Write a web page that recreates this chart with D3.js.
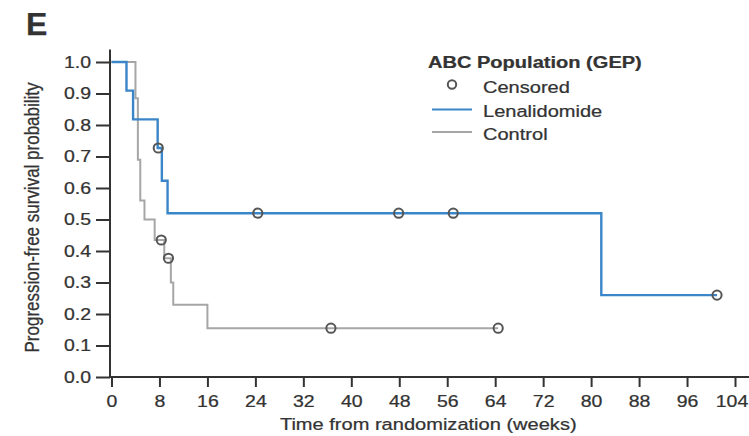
<!DOCTYPE html>
<html>
<head>
<meta charset="utf-8">
<script src="https://cdn.jsdelivr.net/npm/d3@7"></script>
<style>
  html, body { margin: 0; padding: 0; background: #fff; }
  svg { display: block; }
  text { font-family: "Liberation Sans", Arial, Helvetica, sans-serif; fill: #333; stroke: #333; stroke-width: 0.25px; }
</style>
</head>
<body>
<svg id="chart" width="749" height="436"></svg>
<script>
// Kaplan–Meier estimates, ABC population (GEP)
const lenaTimes = [0, 2.5, 3.6, 7.7, 8.4, 9.35, 81.7, 101];
const lenaSurv  = [1.0, 0.909, 0.818, 0.727, 0.623, 0.52, 0.26, 0.26];
const lenaCensorTimes = [7.8, 24.4, 47.9, 57.0, 101];
const lenaCensorSurv  = [0.727, 0.52, 0.52, 0.52, 0.26];

const ctrlTimes = [0, 4.0, 4.4, 4.8, 5.5, 7.2, 8.8, 9.9, 10.3, 16.0, 64.5];
const ctrlSurv  = [1.0, 0.885, 0.69, 0.56, 0.50, 0.435, 0.377, 0.30, 0.229, 0.155, 0.155];
const ctrlCensorTimes = [8.3, 9.5, 36.6, 64.5];
const ctrlCensorSurv  = [0.435, 0.377, 0.155, 0.155];

const xTicks = [0, 8, 16, 24, 32, 40, 48, 56, 64, 72, 80, 88, 96, 104];
const yTicks = [0, 0.1, 0.2, 0.3, 0.4, 0.5, 0.6, 0.7, 0.8, 0.9, 1.0];

const legendTitle = "ABC Population (GEP)";
const legendItems = ["Censored", "Lenalidomide", "Control"];

const BLUE = "#3a86c8", GREY = "#a6a6a6", INK = "#333", RING = "#555";

const svg = d3.select("#chart");
const x = d3.scaleLinear().domain([0, 104]).range([111.5, 735]);
const y = d3.scaleLinear().domain([0, 1]).range([377, 62]);
const SX = "scale(1.18,1)"; // wide lettering

// panel letter
svg.append("text").attr("x", 26).attr("y", 35)
  .attr("font-size", 32).attr("font-weight", "bold").attr("fill", "#222").attr("stroke", "none").text("E");

// axes
const gx = svg.append("g").attr("transform", `translate(0,${y(0)})`)
  .call(d3.axisBottom(x).tickValues(xTicks).tickSize(10).tickSizeOuter(0).tickPadding(6));
gx.select(".domain").remove();
gx.selectAll("line").attr("stroke", INK).attr("stroke-width", 2);
gx.selectAll("text").attr("font-size", 16.5).attr("fill", INK).attr("transform", SX)
  .attr("y", 18).attr("dy", "0.71em");
// keep the last label inside the frame
gx.selectAll(".tick").filter(d => d === 104).select("text").attr("x", -3);

const gy = svg.append("g").attr("transform", `translate(${x(0) - 1.5},0)`)
  .call(d3.axisLeft(y).tickValues(yTicks).tickFormat(d3.format(".1f")).tickSize(14).tickSizeOuter(0).tickPadding(4));
gy.select(".domain").remove();
gy.selectAll("line").attr("stroke", INK).attr("stroke-width", 2);
gy.selectAll("text").attr("font-size", 16.5).attr("fill", INK)
  .attr("x", -19 / 1.18).attr("transform", SX);

// axis lines
svg.append("line").attr("x1", x(0) - 1.5).attr("x2", x(0) - 1.5)
  .attr("y1", y(0) + 1).attr("y2", y(1.04)).attr("stroke", INK).attr("stroke-width", 2);
svg.append("line").attr("x1", x(0) - 2.5).attr("x2", x(106.5))
  .attr("y1", y(0)).attr("y2", y(0)).attr("stroke", INK).attr("stroke-width", 2);

// axis titles
svg.append("text")
  .attr("transform", `translate(${x(52) + 5},430) ${SX}`)
  .attr("text-anchor", "middle").attr("font-size", 17).text("Time from randomization (weeks)");
svg.append("text")
  .attr("transform", `translate(39,${y(0.5) - 2}) ${SX} rotate(-90)`)
  .attr("text-anchor", "middle").attr("font-size", 17).text("Progression-free survival probability");

// survival curves
const step = d3.line().curve(d3.curveStepAfter).x(d => x(d[0])).y(d => y(d[1]));
const curves = [
  { t: ctrlTimes, s: ctrlSurv, c: GREY, w: 2 },
  { t: lenaTimes, s: lenaSurv, c: BLUE, w: 2.4 }
];
curves.forEach(k => {
  svg.append("path").datum(d3.zip(k.t, k.s)).attr("d", step)
    .attr("fill", "none").attr("stroke", k.c).attr("stroke-width", k.w);
});

// censor marks
const censors = d3.zip(ctrlCensorTimes, ctrlCensorSurv).concat(d3.zip(lenaCensorTimes, lenaCensorSurv));
svg.append("g").selectAll("circle").data(censors).join("circle")
  .attr("cx", d => x(d[0])).attr("cy", d => y(d[1])).attr("r", 4.6)
  .attr("fill", "none").attr("stroke", RING).attr("stroke-width", 2);

// legend
const lg = svg.append("g");
lg.append("text").attr("transform", `translate(428,68) ${SX}`)
  .attr("font-size", 17).attr("font-weight", "bold").attr("fill", "#2a2a2a").text(legendTitle);
const rowY = [93, 116.5, 140];
legendItems.forEach((name, i) => {
  lg.append("text").attr("transform", `translate(483,${rowY[i]}) ${SX}`)
    .attr("font-size", 17).text(name);
});
lg.append("circle").attr("cx", 452).attr("cy", rowY[0] - 8.5).attr("r", 4.2)
  .attr("fill", "none").attr("stroke", RING).attr("stroke-width", 2);
lg.append("line").attr("x1", 432).attr("x2", 472).attr("y1", rowY[1] - 7).attr("y2", rowY[1] - 7)
  .attr("stroke", BLUE).attr("stroke-width", 2);
lg.append("line").attr("x1", 432).attr("x2", 472).attr("y1", rowY[2] - 8).attr("y2", rowY[2] - 8)
  .attr("stroke", GREY).attr("stroke-width", 2);
</script>
</body>
</html>
